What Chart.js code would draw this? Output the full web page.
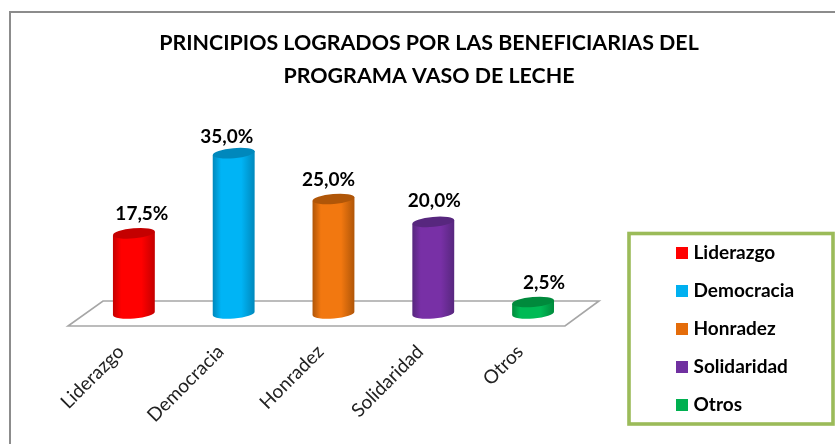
<!DOCTYPE html>
<html><head><meta charset="utf-8">
<style>html,body{margin:0;padding:0;background:#fff}#w{width:835px;height:444px}</style>
<script src="https://cdn.jsdelivr.net/npm/chart.js@4"></script>
</head><body><div id="w"><canvas id="c" width="835" height="444"></canvas></div>
<script>
const categories = ["Liderazgo","Democracia","Honradez","Solidaridad","Otros"];
const values = [17.5,35.0,25.0,20.0,2.5];
const titleLines = ["PRINCIPIOS LOGRADOS POR LAS BENEFICIARIAS DEL","PROGRAMA VASO DE LECHE"];
const colors = ["#FF0000","#00B0F0","#E46C0A","#7030A0","#00B050"];
const bright = ["#FF0000","#00B4F5","#F27810","#7830A6","#00BA55"];
const darks = ["#C40000","#0088BC","#B05608","#57277E","#008A3C"];
const labelDx = [8,-7,-5,1,11];
const labelDy = [-19,-16,-19,-21,-19];
const FONT = "Lato, Carlito, sans-serif";
const fmt = v => v.toFixed(1).replace(".",",") + "%";

const deco = {
  id:"deco",
  afterLayout(ch){
    const L = ch.legend;
    L.left = 661; L.right = 830; L.top = 214; L.bottom = 444; L.width = L.right-L.left; L.height = L.bottom-L.top;
  },
  beforeDraw(ch){
    const g = ch.ctx;
    g.save();
    g.fillStyle="#fff"; g.fillRect(0,0,ch.width,ch.height);
    g.strokeStyle="#8C8C8C"; g.lineWidth=2;
    g.beginPath(); g.moveTo(10,444); g.lineTo(10,12); g.lineTo(835,12); g.stroke();
    g.strokeStyle="#9BBB59"; g.lineWidth=3.6;
    g.strokeRect(629,233.5,204,190.5);
    g.restore();
  },
  beforeDatasetsDraw(ch){
    const g = ch.ctx, a = ch.chartArea, y0 = ch.scales.y.getPixelForValue(0);
    g.save();
    g.strokeStyle="#A6A6A6"; g.lineWidth=1.6; g.fillStyle="#fff";
    g.beginPath();
    g.moveTo(a.left-16,y0+12.5); g.lineTo(a.right-18,y0+12.5);
    g.lineTo(a.right+16,y0-12.5); g.lineTo(a.left+19,y0-12.5); g.closePath();
    g.fill(); g.stroke();
    g.restore();
  },
  beforeDatasetDraw(ch,args){
    const g = ch.ctx, meta = args.meta;
    const tilt = -5*Math.PI/180, ry = 5;
    const lift = Math.sin(-tilt)*(meta.data[0].width/2);
    meta.data.forEach((b,i)=>{
      const hw = b.width/2, x=b.x, top=b.y, base=ch.scales.y.getPixelForValue(0);
      const grad = g.createLinearGradient(x-hw,0,x+hw,0);
      grad.addColorStop(0,darks[i]); grad.addColorStop(0.2,bright[i]);
      grad.addColorStop(0.68,bright[i]); grad.addColorStop(1,darks[i]);
      g.save();
      g.fillStyle=grad;
      g.beginPath();
      g.moveTo(x-hw,top+lift);
      g.lineTo(x-hw,base+lift);
      g.ellipse(x,base,hw,ry,tilt,Math.PI,0,true);
      g.lineTo(x+hw,top-lift);
      g.closePath(); g.fill();
      g.fillStyle=darks[i];
      g.beginPath(); g.ellipse(x,top,hw,ry,tilt,0,Math.PI*2); g.fill();
      g.fillStyle="#000"; g.font="bold 19px "+FONT; g.textAlign="center"; g.textBaseline="middle";
      g.fillText(fmt(values[i]),x+labelDx[i],top+labelDy[i]);
      g.restore();
    });
    return false;
  }
};

new Chart(document.getElementById("c"),{
  type:"bar",
  plugins:[deco],
  data:{labels:categories,datasets:[{data:values,backgroundColor:colors,barPercentage:0.42,categoryPercentage:1}]},
  options:{
    responsive:false,animation:false,
    layout:{padding:{left:63,right:40,top:0,bottom:0}},
    plugins:{
      tooltip:{enabled:false},
      title:{display:true,text:titleLines,color:"#000",font:{family:FONT,size:21.4,weight:"bold",lineHeight:1.5},padding:{top:27.5,bottom:6.5}},
      legend:{position:"right",
        labels:{color:"#000",font:{family:FONT,size:19,weight:"bold"},usePointStyle:true,boxWidth:4,boxHeight:12,padding:19,
          generateLabels:()=>categories.map((t,i)=>({text:t,fillStyle:colors[i],strokeStyle:colors[i],lineWidth:0,pointStyle:"rect",hidden:false,index:i})) }}
    },
    scales:{
      x:{grid:{display:false},border:{display:false},
         ticks:{color:"#222",font:{family:FONT,size:19},maxRotation:45,minRotation:45,padding:19,labelOffset:-13,autoSkip:false},
         afterFit(s){s.height=130.5}},
      y:{min:0,max:47,display:true,grid:{display:false},border:{display:false},ticks:{display:false},afterFit(s){s.width=21}},
      yR:{position:"right",display:true,grid:{display:false},border:{display:false},ticks:{display:false},afterFit(s){s.width=90}}
    }
  }
});
</script></body></html>
